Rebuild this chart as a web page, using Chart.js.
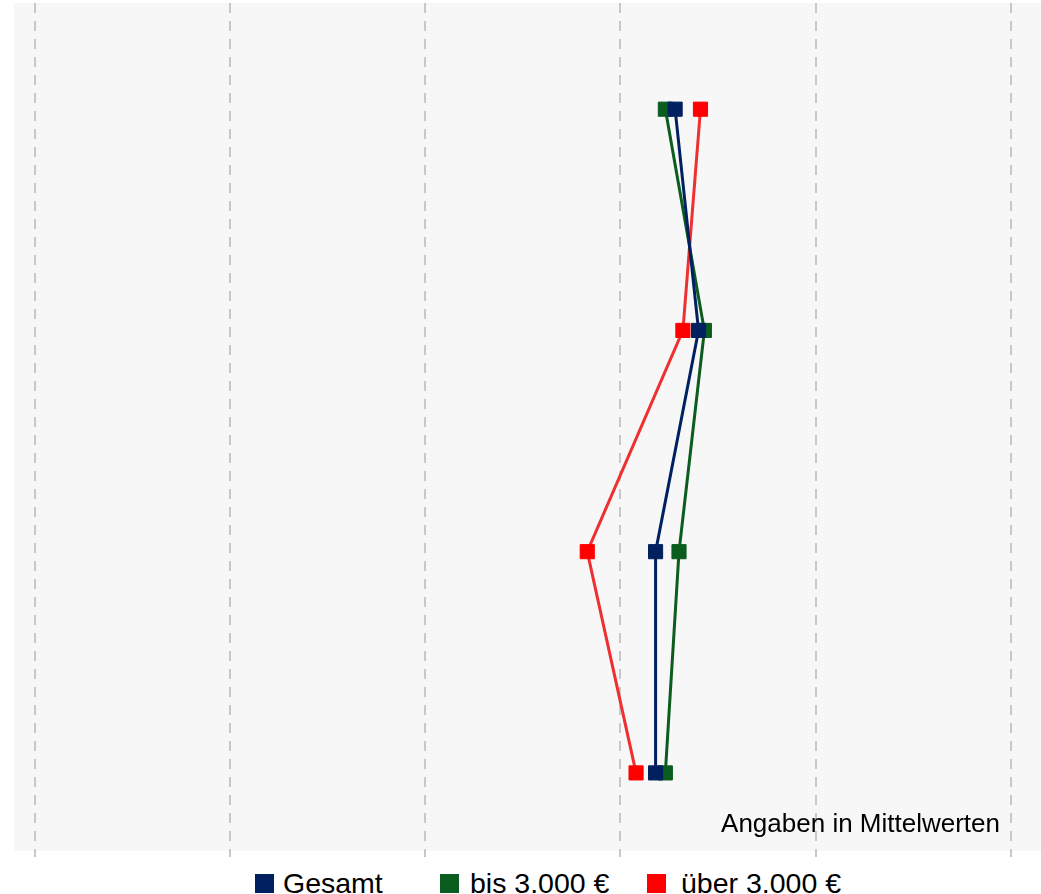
<!DOCTYPE html>
<html lang="de">
<head>
<meta charset="utf-8">
<title>Mittelwerte nach Einkommen</title>
<script src="https://cdn.jsdelivr.net/npm/chart.js@4/dist/chart.umd.min.js"></script>
<style>
  html, body { margin: 0; padding: 0; background: #fff; }
  #wrap { position: relative; width: 1041px; height: 894px; font-family: "Liberation Sans", Arial, sans-serif; }
  #chartBox { position: absolute; left: 0; top: 0; width: 1041px; height: 857px; }
  #legend { position: absolute; left: 0; top: 873px; width: 1041px; height: 20px; }
  .item { position: absolute; top: 0; height: 20px; display: flex; align-items: center; }
  .box { width: 19px; height: 19px; flex: none; }
  .label { font-size: 28.5px; line-height: 20px; color: #000; white-space: nowrap; }
</style>
</head>
<body>
<div id="wrap">
  <div id="chartBox"><canvas id="meanChart"></canvas></div>
  <div id="legend"></div>
</div>
<script>
document.addEventListener("DOMContentLoaded", () => {

    // Mittelwerte je Zeile (von oben nach unten)
    const seriesNames = ["Gesamt", "bis 3.000 €", "über 3.000 €"];
    const gesamt = [4.28, 4.40, 4.18, 4.18];
    const bis3000 = [4.23, 4.43, 4.30, 4.23];
    const ueber3000 = [4.41, 4.32, 3.83, 4.08];
    const gridTicks = [1, 2, 3, 4, 5, 6];
    const noteText = "Angaben in Mittelwerten";

    const markerColors = ["#002060", "#0a5c1f", "#ff0000"];
    const lineColors = ["#002060", "#0a5c1f", "#ee3030"];

    // Legende: linke Kante je Eintrag
    const legendLeft = [255, 440, 647];
    const legendGap = [9, 11, 15];

    // Zeilenindex als y-Wert
    const toPoints = values => values.map((v, i) => ({ x: v, y: i }));

    const datasets = [gesamt, bis3000, ueber3000].map((values, k) => ({
        label: seriesNames[k],
        data: toPoints(values),
        borderColor: lineColors[k],
        backgroundColor: markerColors[k],
        borderWidth: 3,
        pointStyle: "rect",
        pointRadius: 10,
        pointHoverRadius: 10,
        pointBorderWidth: 1,
        pointBorderColor: markerColors[k],
        pointBackgroundColor: markerColors[k],
        tension: 0,
        fill: false
    }));

    // grauer Hintergrund der Zeichenfläche
    const plotBackground = {
        id: "plotBackground",
        beforeDraw(chart) {
            const { ctx, chartArea: a } = chart;
            ctx.save();
            ctx.fillStyle = "#f7f7f7";
            ctx.fillRect(a.left, a.top, a.right - a.left, a.bottom - a.top);
            ctx.restore();
        }
    };

    // Hinweis unten rechts
    const noteLabel = {
        id: "noteLabel",
        afterDatasetsDraw(chart) {
            const { ctx, chartArea: a } = chart;
            ctx.save();
            ctx.font = '26px "Liberation Sans", Arial, sans-serif';
            ctx.fillStyle = "#000";
            ctx.textAlign = "right";
            ctx.textBaseline = "alphabetic";
            ctx.fillText(noteText, a.right - 41, a.bottom - 19);
            ctx.restore();
        }
    };

    new Chart(document.getElementById("meanChart"), {
        type: "line",
        data: { datasets },
        plugins: [plotBackground, noteLabel],
        options: {
            responsive: true,
            maintainAspectRatio: false,
            animation: false,
            layout: { autoPadding: false, padding: { left: 14, top: 3, right: 0, bottom: 0 } },
            plugins: {
                legend: { display: false },
                tooltip: { enabled: true }
            },
            scales: {
                x: {
                    type: "linear",
                    min: 0.894,
                    max: 6.154,
                    afterBuildTicks: scale => {
                        scale.ticks = gridTicks.map(v => ({ value: v }));
                    },
                    ticks: { display: false },
                    border: { display: false, dash: [10, 8] },
                    grid: {
                        color: "#c8c8c8",
                        lineWidth: 2,
                        tickBorderDash: [10, 8],
                        tickLength: 6,
                        drawTicks: true
                    }
                },
                y: {
                    type: "linear",
                    reverse: true,
                    min: -0.48,
                    max: 3.353,
                    display: false
                }
            }
        }
    });

    // Legende aus den Datensätzen aufbauen
    const legend = document.getElementById("legend");
    datasets.forEach((ds, k) => {
        const item = document.createElement("div");
        item.className = "item";
        item.style.left = legendLeft[k] + "px";
        const box = document.createElement("span");
        box.className = "box";
        box.style.background = markerColors[k];
        const label = document.createElement("span");
        label.className = "label";
        label.style.marginLeft = legendGap[k] + "px";
        label.textContent = ds.label;
        item.appendChild(box);
        item.appendChild(label);
        legend.appendChild(item);
    });
});
</script>
</body>
</html>
